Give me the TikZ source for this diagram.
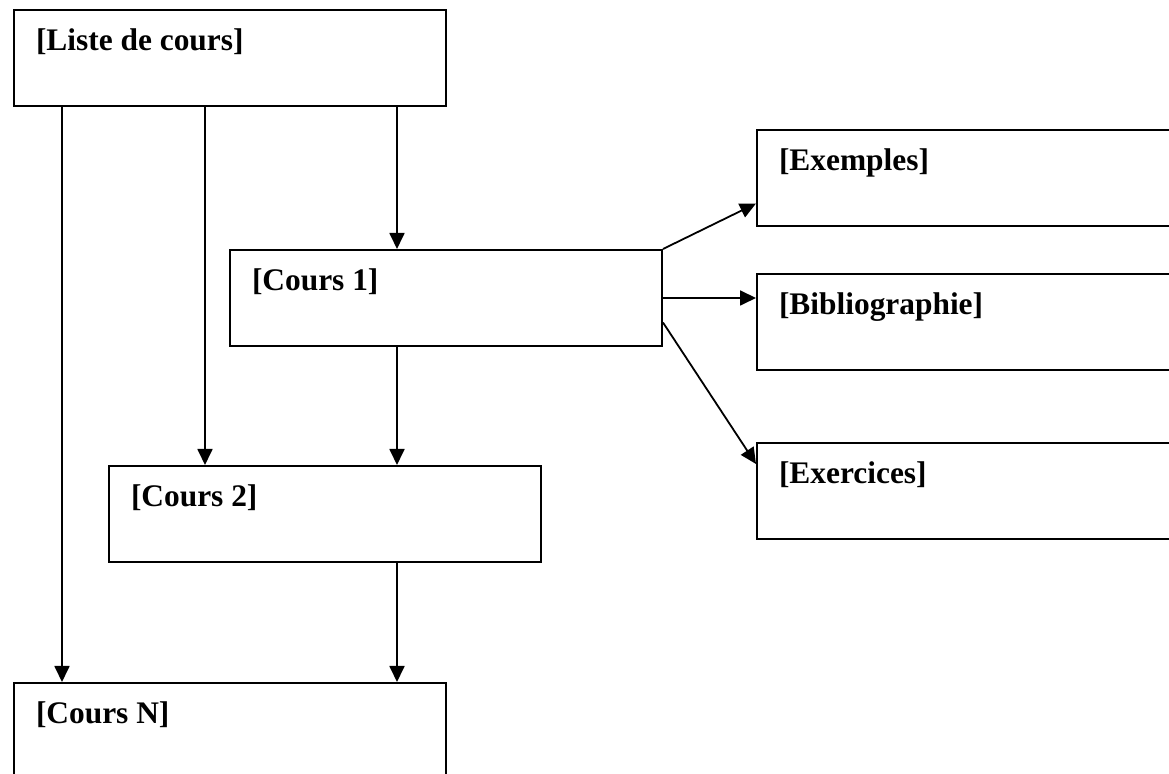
\documentclass[tikz,border=0pt]{standalone}
\usepackage{fontspec}
\setmainfont{Liberation Serif}
\usetikzlibrary{arrows.meta}

\tikzset{
  box/.style={draw, line width=1pt, anchor=north west,
    font=\fontsize{15.7}{18}\selectfont\bfseries,
    text width=194pt, align=flush left, inner xsep=11pt, inner ysep=0pt,
    text height=20.5pt, text depth=27.5pt},
  arr/.style={-{Triangle[length=8pt,width=7.5pt]}, line width=0.9pt}
}

\begin{document}
\begin{tikzpicture}[x=0.5pt, y=-0.5pt]
    \clip (0,0) rectangle (1169,774);

    \node[box] (liste) at (13,9) {[Liste de cours]};
    \node[box] (cours1) at (229,249) {[Cours 1]};
    \node[box] (cours2) at (108,465) {[Cours 2]};
    \node[box] (coursN) at (13,682) {[Cours N]};

    \node[box] (exemples) at (756,129) {[Exemples]};
    \node[box] (biblio) at (756,273) {[Bibliographie]};
    \node[box] (exercices) at (756,442) {[Exercices]};

    \coordinate (colA) at (62,0);
    \coordinate (colB) at (205,0);
    \coordinate (colC) at (397,0);

    \draw[arr] (liste.south -| colA) -- (coursN.north -| colA);
    \draw[arr] (liste.south -| colB) -- (cours2.north -| colB);
    \draw[arr] (liste.south -| colC) -- (cours1.north -| colC);
    \draw[arr] (cours1.south -| colC) -- (cours2.north -| colC);
    \draw[arr] (cours2.south -| colC) -- (coursN.north -| colC);

    \draw[arr] (cours1.north east) -- ([yshift=-12.75pt]exemples.west);
    \draw[arr] (cours1.east) -- (cours1.east -| biblio.west);
    \draw[arr] ([yshift=-12.25pt]cours1.east) -- ([yshift=13.5pt]exercices.west);

\end{tikzpicture}
\end{document}
